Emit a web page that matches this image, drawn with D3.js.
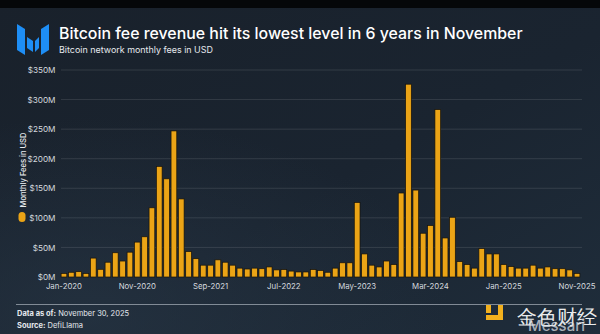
<!DOCTYPE html>
<html>
<head>
<meta charset="utf-8">
<script src="https://cdn.jsdelivr.net/npm/d3@7"></script>
<style>
  html, body { margin: 0; padding: 0; background: #151c25; }
  svg { display: block; }
  text { font-family: Inter, "Noto Sans", "DejaVu Sans", sans-serif; }
</style>
</head>
<body>
<svg id="chart" width="600" height="334"></svg>
<script>
// ---- Data ----
const titleText = "Bitcoin fee revenue hit its lowest level in 6 years in November";
const subtitleText = "Bitcoin network monthly fees in USD";
const yAxisTitle = "Monthly Fees in USD";
const months = d3.timeMonths(new Date(2020, 0, 1), new Date(2025, 11, 1)); // Jan-2020 .. Nov-2025
const fees2020 = [6, 8, 9, 6, 32, 13, 25, 41, 27, 42, 59, 68];
const fees2021 = [117, 187, 166, 247, 132, 43, 31, 20, 20, 29, 25, 20];
const fees2022 = [15, 13.5, 15, 14, 17, 12, 12.5, 10, 8.5, 8.5, 12.5, 11];
const fees2023 = [8, 15, 24, 24, 126, 39, 20, 17, 27, 21, 142, 326];
const fees2024 = [147, 74, 87, 283, 66, 101, 26, 21, 15, 48, 39, 39];
const fees2025 = [21, 17.5, 15, 15, 20, 15, 17, 14, 14, 12, 6];
const feesUSDm = [].concat(fees2020, fees2021, fees2022, fees2023, fees2024, fees2025);
const yTicks = [0, 50, 100, 150, 200, 250, 300, 350];
const xTickLabels = ["Jan-2020", "Nov-2020", "Sep-2021", "Jul-2022", "May-2023", "Mar-2024", "Jan-2025", "Nov-2025"];
const footerDate = "November 30, 2025";
const footerSource = "DefiLlama";

// ---- Chart ----
const fmt = d3.timeFormat("%b-%Y");
const data = months.map((m, i) => ({ label: fmt(m), value: feesUSDm[i] }));

const svg = d3.select("#chart");
const W = 600, H = 334;

// scale a text's font-size so that its rendered length matches a target width
function fit(sel, target) {
  const len = sel.node().getComputedTextLength();
  const fs = parseFloat(sel.attr("font-size"));
  if (len > 0) sel.attr("font-size", (fs * target / len).toFixed(2));
  return sel;
}

const defs = svg.append("defs");
const bg = defs.append("linearGradient").attr("id", "bg").attr("x1", 0).attr("y1", 0).attr("x2", 1).attr("y2", 1);
bg.append("stop").attr("offset", "0%").attr("stop-color", "#19212b");
bg.append("stop").attr("offset", "55%").attr("stop-color", "#1a2430");
bg.append("stop").attr("offset", "100%").attr("stop-color", "#1f2d3b");
const rg = defs.append("radialGradient").attr("id", "glow").attr("cx", 0.15).attr("cy", 0.95).attr("r", 0.6);
rg.append("stop").attr("offset", "0%").attr("stop-color", "#2a3a4a").attr("stop-opacity", 0.55);
rg.append("stop").attr("offset", "100%").attr("stop-color", "#2a3a4a").attr("stop-opacity", 0);

svg.append("rect").attr("width", W).attr("height", H).attr("fill", "url(#bg)");
svg.append("rect").attr("width", W).attr("height", H).attr("fill", "url(#glow)");
svg.append("rect").attr("width", W).attr("height", 8).attr("fill", "#050709");

// Logo
const logo = svg.append("g").attr("fill", "#1e8ef5");
logo.append("polygon").attr("points", "17,24 25,29 25,55 17,50");
logo.append("polygon").attr("points", "27,37 33,41 33,52 27,48");
logo.append("polygon").attr("points", "35,41 39,37 39,48 35,52");
logo.append("polygon").attr("points", "41,29 49,24 49,50 41,55");

// Titles
fit(svg.append("text").attr("x", 59).attr("y", 38.7)
  .attr("font-size", 16).attr("font-weight", 500).attr("fill", "#ffffff")
  .text(titleText), 464);
fit(svg.append("text").attr("x", 59).attr("y", 52.7)
  .attr("font-size", 9.5).attr("fill", "#e6e9ee")
  .text(subtitleText), 154);

// Scales
const x = d3.scaleBand().domain(data.map(d => d.label))
  .range([60.3, 580.7]).paddingInner(0.22).paddingOuter(0.11);
const y = d3.scaleLinear().domain([0, 350]).range([277, 70]);

// Gridlines
svg.append("g").selectAll("line").data(yTicks.slice(1)).join("line")
  .attr("x1", 61).attr("x2", 582)
  .attr("y1", d => y(d)).attr("y2", d => y(d))
  .attr("stroke", "#ffffff").attr("stroke-opacity", 0.14).attr("stroke-width", 0.8);

// Y axis
const yAxis = svg.append("g").attr("transform", "translate(55.5,0)")
  .call(d3.axisLeft(y).tickValues(yTicks).tickSize(0).tickPadding(0).tickFormat(d => "$" + d + "M"));
yAxis.select(".domain").remove();
yAxis.selectAll("text").attr("font-size", 8.2).attr("fill", "#d5d9df")
  .attr("font-family", "Inter, 'Noto Sans', sans-serif");

// Bars
svg.append("g").selectAll("rect").data(data).join("rect")
  .attr("x", d => x(d.label)).attr("width", x.bandwidth())
  .attr("y", d => y(d.value)).attr("height", d => y(0) - y(d.value))
  .attr("fill", "#eba416").attr("stroke", "#16120a").attr("stroke-width", 0.7);

// X axis
const xAxis = svg.append("g").attr("transform", "translate(0,283.5)")
  .call(d3.axisBottom(x).tickValues(xTickLabels).tickSize(0).tickPadding(0));
xAxis.select(".domain").remove();
xAxis.selectAll("text").attr("font-size", 7.8).attr("fill", "#d5d9df")
  .attr("font-family", "Inter, 'Noto Sans', sans-serif");

// Y axis title / legend
fit(svg.append("text").attr("transform", "translate(25.5,207.5) rotate(-90)")
  .attr("font-size", 9).attr("font-weight", 500).attr("fill", "#e8ebef")
  .text(yAxisTitle), 75);
svg.append("rect").attr("x", 18.5).attr("y", 212).attr("width", 7).attr("height", 10)
  .attr("rx", 3.5).attr("fill", "#eba416");

// Footer
svg.append("line").attr("x1", 16).attr("x2", 582).attr("y1", 304.5).attr("y2", 304.5)
  .attr("stroke", "#9aa3ad").attr("stroke-width", 0.8);
const f1 = svg.append("text").attr("x", 17).attr("y", 316).attr("font-size", 8.6).attr("fill", "#e6e9ee");
f1.append("tspan").attr("font-weight", 700).text("Data as of:");
f1.append("tspan").text(" " + footerDate);
fit(f1, 112);
const f2 = svg.append("text").attr("x", 17).attr("y", 328).attr("font-size", 8.6).attr("fill", "#e6e9ee");
f2.append("tspan").attr("font-weight", 700).text("Source:");
f2.append("tspan").text(" " + footerSource);
fit(f2, 66);

// Watermark
const wm = svg.append("g");
wm.append("rect").attr("x", 486).attr("y", 305).attr("width", 5).attr("height", 8).attr("fill", "#f2b01e");
wm.append("rect").attr("x", 486).attr("y", 315).attr("width", 17).attr("height", 5).attr("fill", "#f2b01e");
wm.append("rect").attr("x", 498).attr("y", 305).attr("width", 5).attr("height", 12).attr("fill", "#f2b01e");
wm.append("text").attr("x", 517).attr("y", 324).attr("font-size", 20).attr("fill", "#ffffff").attr("fill-opacity", 0.92)
  .attr("font-family", "'Noto Sans CJK SC', sans-serif").text("金色财经");
wm.append("text").attr("x", 528).attr("y", 331).attr("font-size", 15).attr("font-weight", 500)
  .attr("fill", "#d8dde3").attr("fill-opacity", 0.75).text("Messari");
</script>
</body>
</html>
